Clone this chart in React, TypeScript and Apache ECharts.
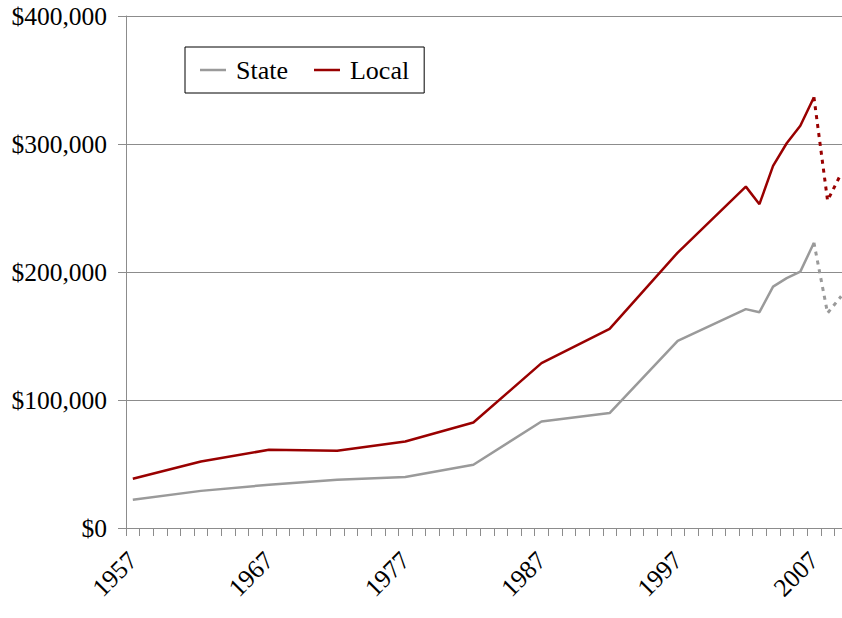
import React, { useEffect, useRef } from "react";
import * as echarts from "echarts";

const categories = [
  "1957","1958","1959","1960","1961","1962","1963","1964","1965","1966",
  "1967","1968","1969","1970","1971","1972","1973","1974","1975","1976",
  "1977","1978","1979","1980","1981","1982","1983","1984","1985","1986",
  "1987","1988","1989","1990","1991","1992","1993","1994","1995","1996",
  "1997","1998","1999","2000","2001","2002","2003","2004","2005","2006",
  "2007","2008","2009",
];

const observedYears = ["1957","1962","1967","1972","1977","1982","1987","1992","1997","2002","2003","2004","2005","2006","2007"];
const stateValues = [22000, 29000, 33800, 37700, 39800, 49400, 83200, 89800, 146200, 171000, 168600, 188600, 195200, 200300, 222800];
const localValues = [38500, 52000, 61100, 60400, 67600, 82400, 128800, 155600, 215200, 266700, 253000, 282900, 300600, 314300, 336500];

const projectedYears = ["2007", "2008", "2009"];
const stateProjected = [222800, 167900, 181000];
const localProjected = [336500, 255800, 277000];

const yTicks = [0, 100000, 200000, 300000, 400000];

function toSeries(years: string[], values: number[]) {
  return categories.map((c) => {
    const i = years.indexOf(c);
    return i >= 0 ? values[i] : null;
  });
}

const FONT = "'Liberation Serif', 'Times New Roman', serif";
const GREY = "#9a9a9a";
const RED = "#990000";

export default function App() {
  const ref = useRef<HTMLDivElement>(null);
  useEffect(() => {
    if (!ref.current) return;
    const chart = echarts.init(ref.current, undefined, { renderer: "svg" });
    chart.setOption({
      animation: false,
      backgroundColor: "#ffffff",
      grid: { left: 126, top: 16, width: 722, height: 512, containLabel: false },
      legend: {
        left: 185,
        top: 47,
        data: [
          { name: "State", icon: "rect" },
          { name: "Local", icon: "rect" },
        ],
        itemWidth: 26,
        itemHeight: 2.5,
        itemGap: 26,
        borderColor: "#000",
        borderWidth: 1,
        padding: [10, 15, 10, 15],
        textStyle: { fontFamily: FONT, fontSize: 26, color: "#000", padding: [0, 0, 0, 5], lineHeight: 26 },
      },
      xAxis: {
        type: "category",
        data: categories,
        boundaryGap: true,
        axisLine: { show: true, lineStyle: { color: "#8c8c8c", width: 1 } },
        axisTick: { show: true, interval: 0, length: 8, lineStyle: { color: "#8c8c8c" } },
        axisLabel: {
          interval: (index: number) => index % 10 === 0,
          rotate: 45,
          margin: 28,
          fontFamily: FONT,
          fontSize: 25.5,
          color: "#000",
        },
        splitLine: { show: false },
      },
      yAxis: {
        type: "value",
        min: yTicks[0],
        max: yTicks[yTicks.length - 1],
        interval: 100000,
        axisLine: { show: true, lineStyle: { color: "#8c8c8c", width: 1 } },
        axisTick: { show: true, length: 8, lineStyle: { color: "#8c8c8c" } },
        axisLabel: {
          margin: 19,
          fontFamily: FONT,
          fontSize: 25.5,
          color: "#000",
          formatter: (v: number) => "$" + v.toLocaleString("en-US"),
        },
        splitLine: { show: true, lineStyle: { color: "#8c8c8c", width: 1 } },
      },
      series: [
        {
          name: "State",
          type: "line",
          data: toSeries(observedYears, stateValues),
          connectNulls: true,
          showSymbol: false,
          symbol: "none",
          color: GREY,
          lineStyle: { color: GREY, width: 2.5 },
          z: 3,
        },
        {
          name: "Local",
          type: "line",
          data: toSeries(observedYears, localValues),
          connectNulls: true,
          showSymbol: false,
          symbol: "none",
          color: RED,
          lineStyle: { color: RED, width: 2.5 },
          z: 3,
        },
        {
          name: "State projected",
          type: "line",
          data: toSeries(projectedYears, stateProjected),
          connectNulls: true,
          symbol: "none",
          color: GREY,
          lineStyle: { color: GREY, width: 3, type: [4, 5] },
        },
        {
          name: "Local projected",
          type: "line",
          data: toSeries(projectedYears, localProjected),
          connectNulls: true,
          symbol: "none",
          color: RED,
          lineStyle: { color: RED, width: 3, type: [4, 5] },
        },
      ],
    });
    return () => chart.dispose();
  }, []);

  return (
    <div style={{ position: "fixed", left: 0, top: 0, width: 842, height: 618, overflow: "hidden", background: "#fff" }}>
      <div ref={ref} style={{ width: 880, height: 618 }} />
    </div>
  );
}
